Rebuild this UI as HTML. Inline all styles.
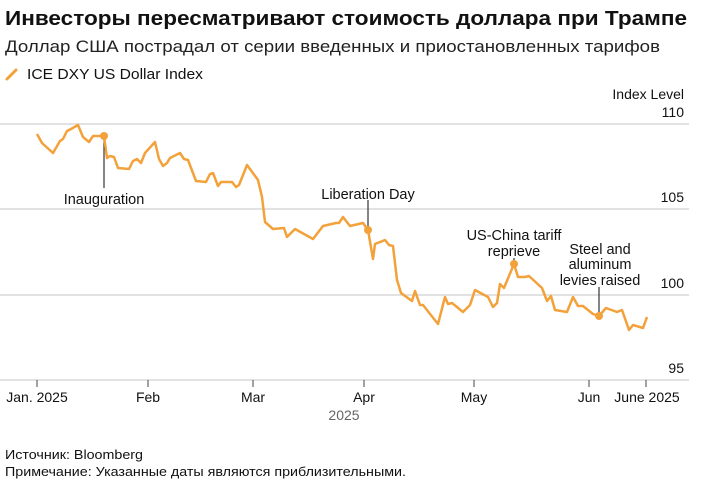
<!DOCTYPE html>
<html><head><meta charset="utf-8"><style>
body{margin:0;background:#fff;width:711px;height:488px;overflow:hidden;font-family:"Liberation Sans",sans-serif;}
</style></head><body>
<svg width="711" height="488" xmlns="http://www.w3.org/2000/svg" font-family="Liberation Sans, sans-serif">
<text x="5" y="25" font-size="20" font-weight="bold" fill="#111" textLength="682" lengthAdjust="spacingAndGlyphs">Инвесторы пересматривают стоимость доллара при Трампе</text>
<text x="5" y="52" font-size="17" fill="#222" textLength="655" lengthAdjust="spacingAndGlyphs">Доллар США пострадал от серии введенных и приостановленных тарифов</text>
<line x1="7" y1="79" x2="16" y2="70" stroke="#f3a13a" stroke-width="3" stroke-linecap="round"/>
<text x="27" y="79" font-size="15" fill="#111" textLength="176" lengthAdjust="spacingAndGlyphs">ICE DXY US Dollar Index</text>
<text x="684" y="99" font-size="14" fill="#111" text-anchor="end">Index Level</text>
<g stroke="#d8d8d8" stroke-width="1.5">
<line x1="0" y1="124" x2="689" y2="124"/><line x1="0" y1="209" x2="689" y2="209"/><line x1="0" y1="295" x2="689" y2="295"/><line x1="0" y1="380" x2="689" y2="380"/></g>
<g font-size="14" fill="#111" text-anchor="end">
<text x="684" y="117">110</text><text x="684" y="202">105</text><text x="684" y="288">100</text><text x="684" y="373">95</text></g>
<g stroke="#444" stroke-width="1"><line x1="37" y1="380" x2="37" y2="387"/><line x1="148" y1="380" x2="148" y2="387"/><line x1="253" y1="380" x2="253" y2="387"/><line x1="364" y1="380" x2="364" y2="387"/><line x1="474" y1="380" x2="474" y2="387"/><line x1="589" y1="380" x2="589" y2="387"/><line x1="646" y1="380" x2="646" y2="387"/></g>
<g font-size="14" fill="#111" text-anchor="middle">
<text x="37" y="402">Jan. 2025</text><text x="148" y="402">Feb</text><text x="253" y="402">Mar</text><text x="364" y="402">Apr</text><text x="474" y="402">May</text><text x="589" y="402">Jun</text><text x="647" y="402">June 2025</text></g>
<text x="344" y="420" font-size="14" fill="#666" text-anchor="middle">2025</text>
<g stroke="#333" stroke-width="1.2"><line x1="104" y1="136" x2="104" y2="188"/><line x1="368" y1="230" x2="368" y2="200"/><line x1="514" y1="264" x2="514" y2="258"/><line x1="599" y1="316" x2="599" y2="287"/></g>
<polyline fill="none" stroke="#f3a13a" stroke-width="2.5" stroke-linejoin="round" points="37,134 42,143 53,153 60,141 63,139 67,131 71,129 78,125 83,137 89,142 93,136 104,136 107,158 110,156 114,157 118,168 129,169 133,161 137,159 141,163 145,153 155,142 159,159 163,166 167,163 170,158 180,153 184,159 188,160 196,181 206,182 210,174 213,173 218,186 221,182 232,182 236,187 239,185 247,165 258,180 262,197 265,222 273,229 284,228 287,237 295,229 313,239 323,226 336,223 339,223 343,217 350,226 363,223 368,230 373,259 375,244 385,240 389,245 393,246 397,280 401,293 412,301 415,291 420,305 423,305 438,324 445,297 448,304 452,303 463,312 470,305 475,290 488,297 493,307 497,303 500,284 504,288 514,264 518,277 525,277 529,276 542,288 547,301 551,296 555,310 567,312 573,297 578,306 583,306 593,314 599,316 606,308 617,312 622,310 629,330 633,325 643,328 647,317"/>
<g fill="#f3a13a"><circle cx="104" cy="136" r="4"/><circle cx="368" cy="230" r="4"/><circle cx="514" cy="264" r="4"/><circle cx="599" cy="316" r="4"/></g>
<g font-size="14.5" fill="#111" text-anchor="middle">
<text x="104" y="204">Inauguration</text>
<text x="368" y="199">Liberation Day</text>
<text x="514" y="240">US-China tariff</text><text x="514" y="256">reprieve</text>
<text x="600" y="254">Steel and</text><text x="600" y="269">aluminum</text><text x="600" y="285">levies raised</text></g>
<text x="5" y="459" font-size="13" fill="#111" textLength="138" lengthAdjust="spacingAndGlyphs">Источник: Bloomberg</text>
<text x="5" y="476" font-size="13" fill="#111" textLength="401" lengthAdjust="spacingAndGlyphs">Примечание: Указанные даты являются приблизительными.</text>
</svg>
</body></html>
